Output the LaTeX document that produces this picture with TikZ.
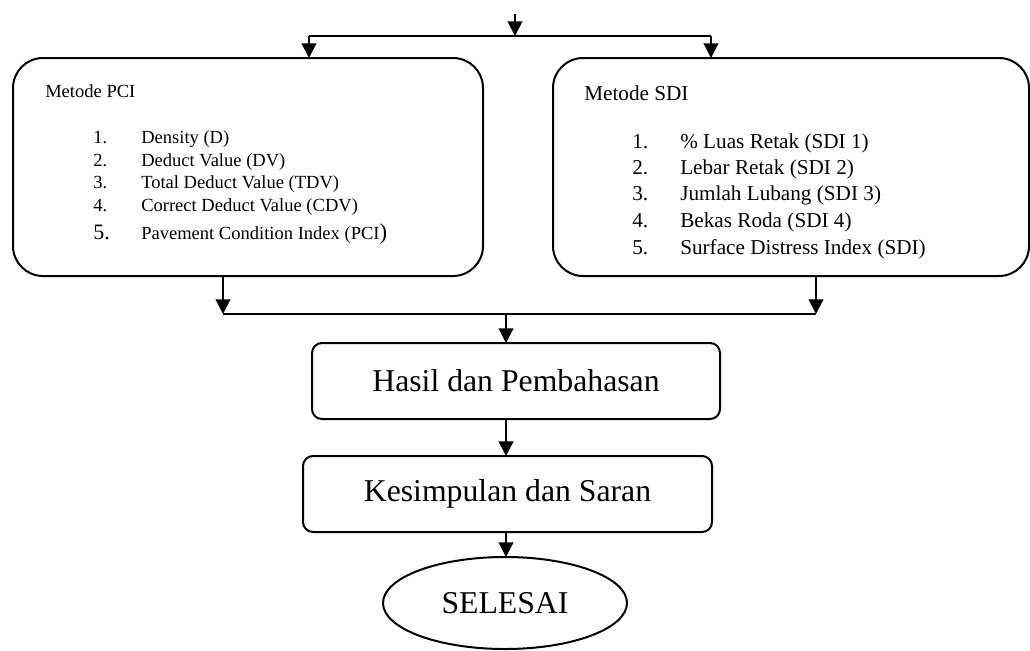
\documentclass[tikz,border=0pt]{standalone}
\usepackage{fontspec}
\setmainfont{Liberation Serif}
\usetikzlibrary{arrows.meta,positioning,shapes.geometric}

\newcommand{\pcifont}{\fontsize{13.9pt}{16pt}\selectfont}
\newcommand{\sdifont}{\fontsize{15.9pt}{18pt}\selectfont}
\newcommand{\bigfont}{\fontsize{23.8pt}{28pt}\selectfont}

\begin{document}
\begin{tikzpicture}[
  x=0.75pt, y=-0.75pt,
  metode/.style={rectangle, draw, line width=1.5pt, rounded corners=22.5pt,
    minimum height=163.5pt, inner sep=0pt, outer sep=0pt},
  hasilbox/.style={rectangle, draw, line width=1.5pt, rounded corners=7.5pt,
    minimum height=57pt, inner sep=0pt, outer sep=0pt, font=\bigfont},
  endnode/.style={ellipse, draw, line width=1.5pt, minimum width=183pt,
    minimum height=69pt, inner sep=0pt, outer sep=0pt, font=\bigfont},
  item/.style={anchor=base west, inner sep=0pt},
  arrow/.style={-{Triangle[length=11pt, width=11pt]}, line width=1.5pt},
  link/.style={line width=1pt},
]
\useasboundingbox (0,0) rectangle (1030,650);

% Metode PCI
\node[metode, minimum width=352.5pt] (pci) at (248,167) {};
\node[item, font=\pcifont] (pcihead) at (45,97) {Metode PCI};
\foreach \n/\txt/\yy in {1/Density (D)/143, 2/Deduct Value (DV)/166,
    3/Total Deduct Value (TDV)/188, 4/Correct Deduct Value (CDV)/211} {
  \node[item, font=\pcifont] (pcinum\n) at (93,\yy) {\n.};
  \node[item, font=\pcifont] (pcitxt\n) at (141,\yy) {\txt};
}
\node[item, font=\fontsize{16.5pt}{19pt}\selectfont] (pcinum5) at (93,239) {5.};
\node[item, font=\pcifont] (pcitxt5) at (141,239)
  {Pavement Condition Index (PCI{\fontsize{17pt}{19pt}\selectfont)}};

% Metode SDI
\node[metode, minimum width=357pt] (sdi) at (791,167) {};
\node[item, font=\sdifont] (sdihead) at (584,100) {Metode SDI};
\foreach \n/\txt/\yy in {1/\% Luas Retak (SDI 1)/148, 2/Lebar Retak (SDI 2)/174,
    3/Jumlah Lubang (SDI 3)/200, 4/Bekas Roda (SDI 4)/227,
    5/Surface Distress Index (SDI)/254} {
  \node[item, font=\sdifont] (sdinum\n) at (632,\yy) {\n.};
  \node[item, font=\sdifont] (sditxt\n) at (680,\yy) {\txt};
}

% lower chain
\node[hasilbox, minimum width=306pt] (hasil) at (516,381) {Hasil dan Pembahasan};
\node[hasilbox, minimum width=306.75pt] (saran) at (507.5,494) {Kesimpulan dan Saran};
\node[endnode] (selesai) at (505,603) {SELESAI};

% split on top
\coordinate (masuk) at (515,14);
\coordinate (tm) at (515,36);
\coordinate (tl) at (309,36);
\coordinate (tr) at (711,36);
\draw[arrow] (masuk) -- (tm);
\draw[link] (tl) -- (tr);
\draw[arrow] (tl) -- (tl |- pci.north);
\draw[arrow] (tr) -- (tr |- sdi.north);

% merge below
\coordinate (bl) at (223,314);
\coordinate (br) at (816,314);
\coordinate (bm) at (506,314);
\draw[arrow] (bl |- pci.south) -- (bl);
\draw[arrow] (br |- sdi.south) -- (br);
\draw[link] (bl) -- (br);
\draw[arrow] (bm) -- (bm |- hasil.north);
\draw[arrow] (hasil.south -| bm) -- (bm |- saran.north);
\draw[arrow] (saran.south -| bm) -- (bm |- selesai.north);

\end{tikzpicture}
\end{document}
